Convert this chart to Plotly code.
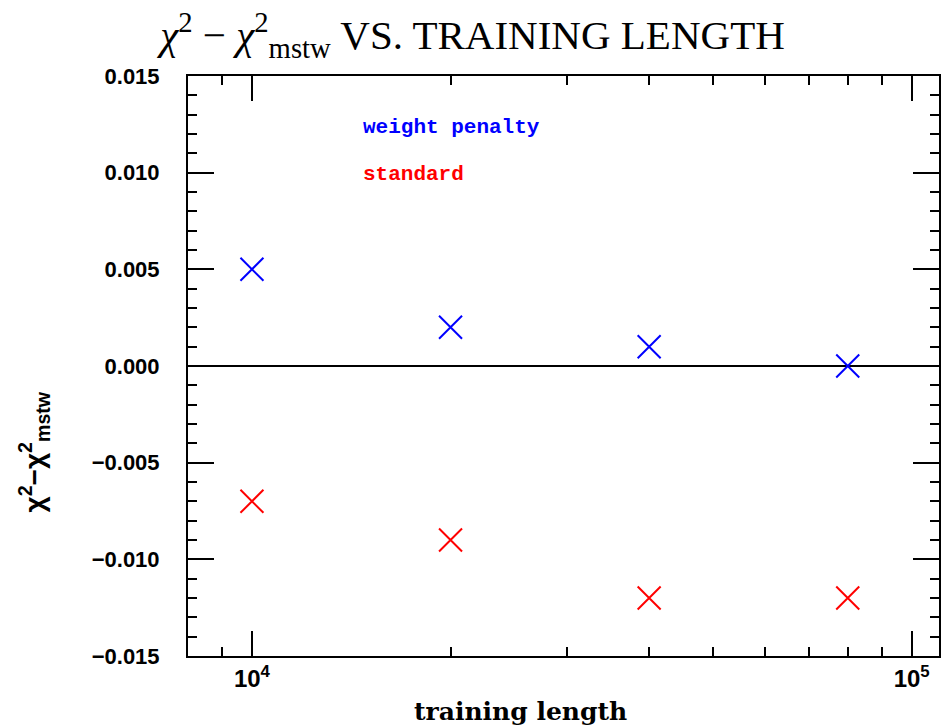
import plotly.graph_objects as go
import math

# ---- data ----
training_length = [10000, 20000, 40000, 80000]
weight_penalty = [0.005, 0.002, 0.001, 0.000]
standard = [-0.007, -0.009, -0.012, -0.012]
series_names = ["weight penalty", "standard"]
x_tick_vals = [10000, 100000]
x_tick_text = ["10<sup>4</sup>", "10<sup>5</sup>"]
x_minor_vals = [9000, 20000, 30000, 40000, 50000, 60000, 70000, 80000, 90000]

W, H = 945, 728
L, R, T, B = 188, 4, 76, 72
PW, PH = W - L - R, H - T - B

fig = go.Figure()
for vals, color in [(weight_penalty, "#0000ff"), (standard, "#ff0000")]:
    fig.add_trace(go.Scatter(
        x=training_length, y=vals, mode="markers",
        marker=dict(symbol="x-thin", size=23, color=color,
                    line=dict(color=color, width=2)),
        showlegend=False, cliponaxis=False))

y_tick_font = dict(family="Liberation Sans, Arial, sans-serif", size=22,
                   color="black", weight="bold")
x_tick_font = dict(family="Liberation Sans, Arial, sans-serif", size=24,
                   color="black", weight="bold")

fig.update_layout(
    width=W, height=H,
    margin=dict(l=L, r=R, t=T, b=B),
    paper_bgcolor="white", plot_bgcolor="white",
    title=dict(
        text="<i>χ</i><sup>2</sup> − <i>χ</i><sup>2</sup><sub>mstw</sub> VS. TRAINING LENGTH",
        font=dict(family="Liberation Serif, Times New Roman, serif", size=41, color="black"),
        x=0.50, xref="container", xanchor="center",
        y=1 - 35 / H, yref="container", yanchor="middle"),
    xaxis=dict(
        type="log",
        range=[math.log10(8000), math.log10(110000)],
        showline=True, linecolor="black", linewidth=2, mirror="allticks",
        ticks="inside", ticklen=25, tickwidth=2, tickcolor="black",
        tickmode="array", tickvals=x_tick_vals, ticktext=x_tick_text,
        tickfont=x_tick_font, showgrid=False, zeroline=False,
        minor=dict(tickmode="array", tickvals=x_minor_vals, ticks="inside",
                   ticklen=9, tickwidth=2, tickcolor="black", showgrid=False),
    ),
    yaxis=dict(
        range=[-0.015, 0.015],
        showline=True, linecolor="black", linewidth=2, mirror="allticks",
        ticks="inside", ticklen=26, tickwidth=2, tickcolor="black",
        tick0=0, dtick=0.005, tickformat=".3f",
        tickfont=y_tick_font, ticklabelstandoff=22,
        showgrid=False,
        zeroline=True, zerolinecolor="black", zerolinewidth=2,
        minor=dict(dtick=0.001, tick0=0, ticks="inside", ticklen=9,
                   tickwidth=2, tickcolor="black", showgrid=False),
    ),
    annotations=[
        dict(text="<b>" + series_names[0] + "</b>", x=(361 - L) / PW, y=(H - B - 128) / PH,
             xref="paper", yref="paper", xanchor="left", yanchor="middle",
             showarrow=False,
             font=dict(family="Liberation Mono, Courier New, monospace", size=21, color="#0000ff")),
        dict(text="<b>" + series_names[1] + "</b>", x=(361 - L) / PW, y=(H - B - 175) / PH,
             xref="paper", yref="paper", xanchor="left", yanchor="middle",
             showarrow=False,
             font=dict(family="Liberation Mono, Courier New, monospace", size=21, color="#ff0000")),
        dict(text="<b>χ<sup>2</sup>−χ<sup>2</sup><sub>mstw</sub></b>",
             x=(34 - L) / PW, y=(H - B - 452) / PH, xref="paper", yref="paper",
             xanchor="center", yanchor="middle", textangle=-90, showarrow=False,
             font=dict(family="Liberation Sans, Arial, sans-serif", size=28, color="black")),
        dict(text="<b>training length</b>",
             x=(521 - L) / PW, y=(H - B - 711) / PH, xref="paper", yref="paper",
             xanchor="center", yanchor="middle", showarrow=False,
             font=dict(family="DejaVu Serif, serif", size=25, color="black")),
    ],
)

fig.write_html("out.html")
